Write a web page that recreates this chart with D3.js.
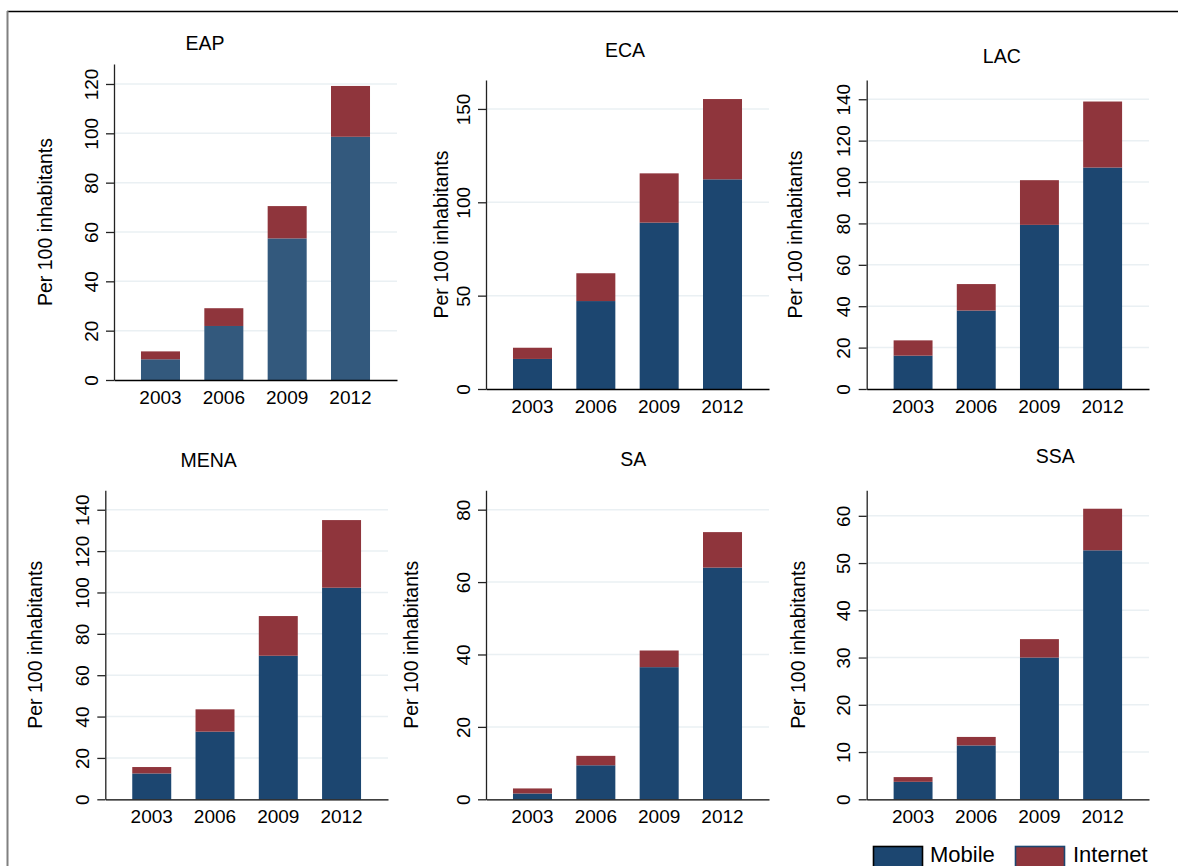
<!DOCTYPE html>
<html>
<head>
<meta charset="utf-8">
<script src="https://cdn.jsdelivr.net/npm/d3@7"></script>
<style>
  html, body { margin: 0; padding: 0; background: #fff; }
  svg { display: block; font-family: "Liberation Sans", Arial, Helvetica, sans-serif; }
</style>
</head>
<body>
<svg id="chart" width="1178" height="866"></svg>
<script>
// ---------------- data ----------------
const regions = ["EAP", "ECA", "LAC", "MENA", "SA", "SSA"];
const years = ["2003", "2006", "2009", "2012"];
const seriesNames = ["Mobile", "Internet"];

const mobileEAP  = [8.4, 21.9, 57.4, 98.6];
const internetEAP = [3.2, 7.2, 13.1, 20.6];
const mobileECA  = [16.1, 47.1, 89.1, 112.3];
const internetECA = [6.0, 14.9, 26.4, 43.0];
const mobileLAC  = [16.1, 37.9, 79.3, 107.0];
const internetLAC = [7.4, 12.8, 21.6, 31.9];
const mobileMENA  = [12.5, 32.7, 69.4, 102.3];
const internetMENA = [3.1, 10.8, 19.2, 32.7];
const mobileSA  = [1.6, 9.4, 36.5, 64.0];
const internetSA = [1.4, 2.6, 4.6, 9.8];
const mobileSSA  = [3.7, 11.4, 30.0, 52.7];
const internetSSA = [1.0, 1.8, 3.9, 8.8];

const ticksEAP  = [0, 20, 40, 60, 80, 100, 120];
const ticksECA  = [0, 50, 100, 150];
const ticksLAC  = [0, 20, 40, 60, 80, 100, 120, 140];
const ticksMENA = [0, 20, 40, 60, 80, 100, 120, 140];
const ticksSA   = [0, 20, 40, 60, 80];
const ticksSSA  = [0, 10, 20, 30, 40, 50, 60];

const yMaxEAP = 128.1, yMaxECA = 165.5, yMaxLAC = 149.3, yMaxMENA = 149.4, yMaxSA = 85.35, yMaxSSA = 65.4;

const yAxisTitle = "Per 100 inhabitants";

const panelData = {
  EAP:  { mobile: mobileEAP,  internet: internetEAP,  ticks: ticksEAP,  yMax: yMaxEAP },
  ECA:  { mobile: mobileECA,  internet: internetECA,  ticks: ticksECA,  yMax: yMaxECA },
  LAC:  { mobile: mobileLAC,  internet: internetLAC,  ticks: ticksLAC,  yMax: yMaxLAC },
  MENA: { mobile: mobileMENA, internet: internetMENA, ticks: ticksMENA, yMax: yMaxMENA },
  SA:   { mobile: mobileSA,   internet: internetSA,   ticks: ticksSA,   yMax: yMaxSA },
  SSA:  { mobile: mobileSSA,  internet: internetSSA,  ticks: ticksSSA,  yMax: yMaxSSA }
};

// ---------------- layout / style ----------------
const layout = {
  EAP:  { x0: 114,   x1: 397,  yTop: 64,    y0: 380,   titleX: 205,    titleY: 50,    yTitleOff: 62 },
  ECA:  { x0: 486,   x1: 769,  yTop: 80,    y0: 389,   titleX: 625,    titleY: 56.5,  yTitleOff: 38 },
  LAC:  { x0: 866.7, x1: 1149, yTop: 80,    y0: 389,   titleX: 1001.8, titleY: 62.5,  yTitleOff: 65 },
  MENA: { x0: 105.3, x1: 388,  yTop: 490.3, y0: 799.3, titleX: 208.7,  titleY: 466.5, yTitleOff: 63 },
  SA:   { x0: 486,   x1: 769,  yTop: 490.3, y0: 799.3, titleX: 633.3,  titleY: 465.5, yTitleOff: 68 },
  SSA:  { x0: 866.7, x1: 1149, yTop: 490.3, y0: 799.3, titleX: 1055.3, titleY: 462.5, yTitleOff: 62 }
};
const colMobile = "#1c4670";
const colMobileEAP = "#33597d";
const colInternet = "#8f353c";
const gridCol = "#eaf0f3";

const svg = d3.select("#chart");

// outer frame
svg.append("line").attr("x1", 7).attr("x2", 1178).attr("y1", 11.5).attr("y2", 11.5)
  .attr("stroke", "#000").attr("stroke-width", 1.4);
svg.append("line").attr("x1", 7.5).attr("x2", 7.5).attr("y1", 11).attr("y2", 866)
  .attr("stroke", "#808080").attr("stroke-width", 2);

regions.forEach(r => {
  const L = layout[r];
  const D = panelData[r];
  const g = svg.append("g");

  const x = d3.scaleBand().domain(years).range([L.x0, L.x1])
    .paddingInner(0.384).paddingOuter(0.426);
  const y = d3.scaleLinear().domain([0, D.yMax]).range([L.y0, L.yTop]);

  // gridlines
  g.append("g").selectAll("line").data(D.ticks.filter(t => t > 0)).join("line")
    .attr("x1", L.x0).attr("x2", L.x1)
    .attr("y1", d => y(d)).attr("y2", d => y(d))
    .attr("stroke", gridCol).attr("stroke-width", 1.5);

  // stacked bars
  const rows = years.map((yr, i) => ({ year: yr, Mobile: D.mobile[i], Internet: D.internet[i] }));
  const stack = d3.stack().keys(seriesNames)(rows);
  const colors = { Mobile: r === "EAP" ? colMobileEAP : colMobile, Internet: colInternet };
  g.append("g").selectAll("g").data(stack).join("g")
    .attr("fill", s => colors[s.key])
    .selectAll("rect").data(s => s).join("rect")
    .attr("x", d => x(d.data.year))
    .attr("width", x.bandwidth())
    .attr("y", d => y(d[1]))
    .attr("height", d => y(d[0]) - y(d[1]));

  // y axis
  const ya = g.append("g").attr("transform", `translate(${L.x0},0)`)
    .call(d3.axisLeft(y).tickValues(D.ticks).tickSize(8).tickSizeOuter(0));
  ya.select(".domain").attr("stroke", "#222").attr("stroke-width", 1.3);
  ya.selectAll(".tick line").attr("stroke", "#222").attr("stroke-width", 1.3);
  ya.selectAll(".tick text")
    .attr("transform", "rotate(-90)")
    .attr("x", 0).attr("y", -16.5).attr("dy", 0)
    .attr("text-anchor", "middle")
    .attr("fill", "#000")
    .style("font-size", "19px")
    .style("font-family", "'Liberation Sans', Arial, sans-serif");

  // x axis
  const xa = g.append("g").attr("transform", `translate(0,${L.y0})`)
    .call(d3.axisBottom(x).tickSize(0).tickSizeOuter(0));
  xa.select(".domain").attr("stroke", "#000").attr("stroke-width", 1.3);
  xa.selectAll(".tick text")
    .attr("y", 24).attr("dy", 0)
    .attr("fill", "#000")
    .style("font-size", "19px")
    .style("font-family", "'Liberation Sans', Arial, sans-serif");

  // y axis title
  const cy = (L.y0 + L.yTop) / 2;
  g.append("text")
    .attr("transform", `translate(${L.x0 - L.yTitleOff},${cy}) rotate(-90)`)
    .attr("text-anchor", "middle")
    .style("font-size", "19.5px")
    .attr("fill", "#000")
    .text(yAxisTitle);

  // panel title
  g.append("text")
    .attr("x", L.titleX).attr("y", L.titleY)
    .attr("text-anchor", "middle")
    .style("font-size", "19.5px")
    .attr("fill", "#000")
    .text(r);
});

// legend
const legendItems = [
  { name: seriesNames[0], fill: colMobile, stroke: "#000", bx: 873.5, tx: 930 },
  { name: seriesNames[1], fill: colInternet, stroke: "#1c4670", bx: 1015.5, tx: 1073 }
];
const lg = svg.append("g");
legendItems.forEach(it => {
  lg.append("rect").attr("x", it.bx).attr("y", 846.5).attr("width", 49).attr("height", 26)
    .attr("fill", it.fill).attr("stroke", it.stroke).attr("stroke-width", 1.6);
  lg.append("text").attr("x", it.tx).attr("y", 862)
    .style("font-size", "22px").attr("fill", "#000").text(it.name);
});
</script>
</body>
</html>
